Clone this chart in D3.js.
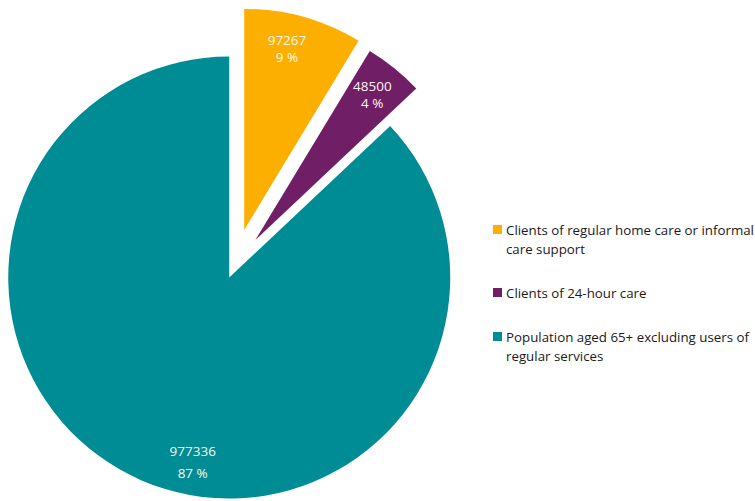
<!DOCTYPE html>
<html>
<head>
<meta charset="utf-8">
<script src="https://cdn.jsdelivr.net/npm/d3@7"></script>
<style>
  body { margin: 0; background: #fff; }
  svg { display: block; font-family: "Open Sans", "Noto Sans", sans-serif; }
</style>
</head>
<body>
<svg width="755" height="501"></svg>
<script>
const width = 755;
const height = 501;

// data
const categories = [
    "Clients of regular home care or informal care support",
    "Clients of 24-hour care",
    "Population aged 65+ excluding users of regular services"
];
const legendLines = [
    ["Clients of regular home care or informal", "care support"],
    ["Clients of 24-hour care"],
    ["Population aged 65+ excluding users of", "regular services"]
];
const values = [97267, 48500, 977336];
const percentLabels = ["9 %", "4 %", "87 %"];
const colors = ["#FDAF00", "#701F67", "#008C95"];

// explode distance for each slice
const explode = [38, 34, 12];

const cx = 234, cy = 266.5;
const radius = 221;

const svg = d3.select("svg");

const pie = d3.pie().value(d => d).sort(null);
const arcs = pie(values);

const arc = d3.arc().innerRadius(0).outerRadius(radius);

const pieGroup = svg.append("g")
    .attr("transform", `translate(${cx},${cy})`);

const slices = pieGroup.selectAll("g.slice")
    .data(arcs)
    .join("g")
    .attr("class", "slice")
    .attr("transform", (d, i) => {
        const a = (d.startAngle + d.endAngle) / 2;
        return `translate(${Math.sin(a) * explode[i]},${-Math.cos(a) * explode[i]})`;
    });

slices.append("path")
    .attr("d", arc)
    .attr("fill", (d, i) => colors[i]);

// labels, the big teal one sits nearer the bottom than its bisector
const labelRadius = 186;
slices.each(function(d, i) {
    let a = (d.startAngle + d.endAngle) / 2;
    if (i === 0) a -= 0.04;
    if (i === 2) a -= 0.21;
    const x = Math.sin(a) * labelRadius;
    const y = -Math.cos(a) * labelRadius;
    const gap = i === 2 ? 22 : 17;
    const g = d3.select(this);
    g.append("text")
        .attr("x", x)
        .attr("y", y - 4)
        .attr("text-anchor", "middle")
        .attr("font-size", "13.5px")
        .attr("fill", "#fbf7ef")
        .text(values[i]);
    g.append("text")
        .attr("x", x)
        .attr("y", y - 4 + gap)
        .attr("text-anchor", "middle")
        .attr("font-size", "13.5px")
        .attr("fill", "#fbf7ef")
        .text(percentLabels[i]);
});

// legend
const legendX = 493;
const legendYs = [225, 288, 332];
const legend = svg.append("g");

const items = legend.selectAll("g.item")
    .data(categories)
    .join("g")
    .attr("class", "item")
    .attr("transform", (d, i) => `translate(${legendX},${legendYs[i]})`);

items.append("rect")
    .attr("width", 9)
    .attr("height", 9)
    .attr("fill", (d, i) => colors[i]);

items.each(function(d, i) {
    const t = d3.select(this).append("text")
        .attr("font-size", "13.3px")
        .attr("fill", "#1a1a1a");
    legendLines[i].forEach((line, j) => {
        t.append("tspan")
            .attr("x", 13)
            .attr("y", 9.5 + j * 19)
            .text(line);
    });
});
</script>
</body>
</html>
